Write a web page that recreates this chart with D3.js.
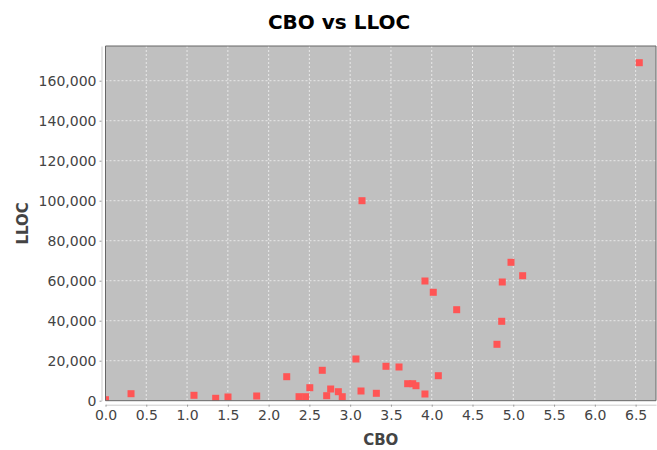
<!DOCTYPE html>
<html>
<head>
<meta charset="utf-8">
<script src="https://cdn.jsdelivr.net/npm/d3@7"></script>
<style>
  body { margin: 0; background: #fff; }
  .tick text { font-family: "DejaVu Sans", sans-serif; font-size: 14px; fill: #444; }
  .labels { font-family: "DejaVu Sans", sans-serif; font-weight: bold; fill: #444; }
</style>
</head>
<body>
<div class="chart"></div>
<script>
/* data */
const cbo = [0, 0.313, 1.085, 1.351, 1.502, 1.854, 2.222, 2.373, 2.454, 2.505,
  2.658, 2.712, 2.761, 2.855, 2.903, 3.071, 3.133, 3.145, 3.321, 3.439,
  3.599, 3.705, 3.767, 3.807, 3.917, 3.917, 4.019, 4.081, 4.306, 4.800,
  4.858, 4.865, 4.972, 5.115, 6.545];
const lloc = [500, 3500, 2700, 1200, 1850, 2350, 12000, 2000, 2000, 6500,
  15200, 2500, 5850, 4500, 2000, 20850, 4850, 100000, 3700, 17200,
  16850, 8500, 8500, 7500, 3350, 59850, 54200, 12500, 45500, 28200,
  39700, 59350, 69200, 62500, 169000];
const xTicks = [0, 0.5, 1, 1.5, 2, 2.5, 3, 3.5, 4, 4.5, 5, 5.5, 6, 6.5];
const yTicks = [0, 20000, 40000, 60000, 80000, 100000, 120000, 140000, 160000];

const points = cbo.map((c, i) => ({CBO: c, LLOC: lloc[i]}));

/* chart dimensions */
const width = 657, height = 450;
const margin = {top: 46, right: 1, bottom: 49.3, left: 105.5};

const svg = d3.select('.chart')
  .append('svg')
  .attr("width", width)
  .attr("height", height);

/* scales */
const xScale = d3.scaleLinear()
  .domain([0, 6.75])
  .range([margin.left, width - margin.right]);

const yScale = d3.scaleLinear()
  .domain([0, 177350])
  .range([height - margin.bottom, margin.top]);

const plotW = width - margin.right - margin.left;
const plotH = height - margin.bottom - margin.top;

/* plot background */
svg.append("rect")
  .attr("x", margin.left)
  .attr("y", margin.top)
  .attr("width", plotW)
  .attr("height", plotH)
  .style("fill", "#c0c0c0");

/* gridlines */
svg.append("g")
  .selectAll("line")
  .data(xTicks.slice(1))
  .enter()
  .append("line")
  .attr("x1", d => xScale(d)).attr("x2", d => xScale(d))
  .attr("y1", margin.top).attr("y2", height - margin.bottom)
  .style("stroke", "#e8e8e8")
  .style("stroke-width", 1)
  .style("stroke-dasharray", "2,2");

svg.append("g")
  .selectAll("line")
  .data(yTicks.slice(1))
  .enter()
  .append("line")
  .attr("x1", margin.left).attr("x2", width - margin.right)
  .attr("y1", d => yScale(d)).attr("y2", d => yScale(d))
  .style("stroke", "#e8e8e8")
  .style("stroke-width", 1)
  .style("stroke-dasharray", "2,2");

/* clip so the point at zero is cut like the original */
svg.append("clipPath")
  .attr("id", "plotClip")
  .append("rect")
  .attr("x", margin.left)
  .attr("y", margin.top)
  .attr("width", plotW)
  .attr("height", plotH);

/* points: 6x6 squares */
svg.append("g")
  .attr("clip-path", "url(#plotClip)")
  .selectAll("rect")
  .data(points)
  .enter()
  .append("rect")
  .attr("x", d => xScale(d.CBO) - 3.5)
  .attr("y", d => yScale(d.LLOC) - 3.5)
  .attr("width", 7)
  .attr("height", 7)
  .style("fill", "#ff5555");

/* plot border */
svg.append("path")
  .attr("d", `M${margin.left},${height - margin.bottom}V${margin.top}H${width - margin.right}V${height - margin.bottom}Z`)
  .style("fill", "none")
  .style("stroke", "#666")
  .style("stroke-width", 1);

/* axes */
const xAxis = d3.axisBottom(xScale)
  .tickValues(xTicks)
  .tickFormat(d3.format(".1f"))
  .tickSize(2)
  .tickPadding(3)
  .tickSizeOuter(0);

const yAxis = d3.axisLeft(yScale)
  .tickValues(yTicks)
  .tickFormat(d3.format(","))
  .tickSize(2)
  .tickPadding(3)
  .tickSizeOuter(0);

const gx = svg.append("g")
  .attr("transform", `translate(0, ${height - margin.bottom + 4})`)
  .call(xAxis);

const gy = svg.append("g")
  .attr("transform", `translate(${margin.left - 4}, 0)`)
  .call(yAxis);

[gx, gy].forEach(g => {
  g.select(".domain").style("stroke", "#ccc");
  g.selectAll(".tick line").style("stroke", "#999");
});

/* title */
svg.append("text")
  .attr("class", "labels")
  .attr("x", 339)
  .attr("y", 29)
  .attr("text-anchor", "middle")
  .style("font-size", "20px")
  .style("fill", "#000")
  .text("CBO vs LLOC");

/* x axis label */
svg.append("text")
  .attr("class", "labels")
  .attr("x", (margin.left + width - margin.right) / 2)
  .attr("y", 445)
  .attr("text-anchor", "middle")
  .style("font-size", "15px")
  .text("CBO");

/* y axis label */
svg.append("text")
  .attr("class", "labels")
  .attr("transform", `translate(28, ${(margin.top + height - margin.bottom) / 2}) rotate(-90)`)
  .attr("text-anchor", "middle")
  .style("font-size", "15px")
  .text("LLOC");
</script>
</body>
</html>
